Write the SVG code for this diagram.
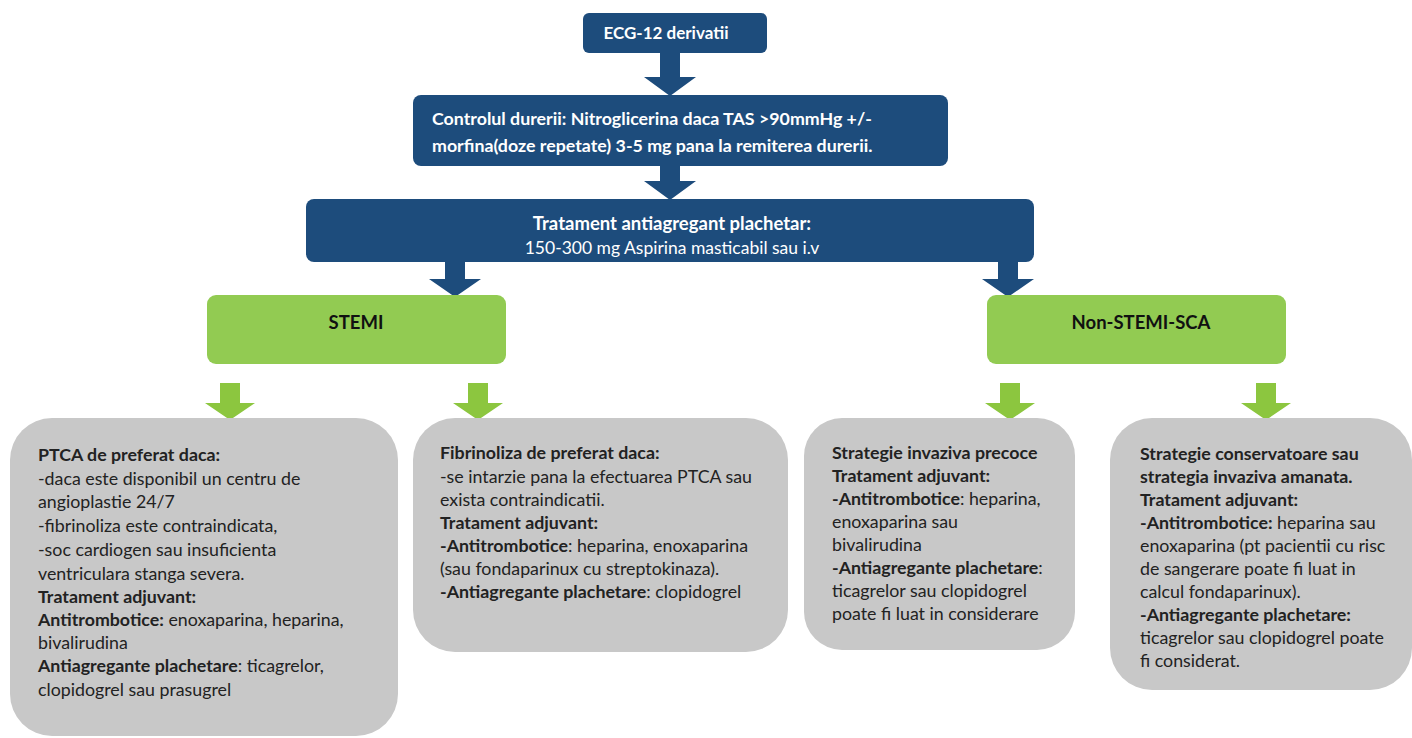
<svg xmlns="http://www.w3.org/2000/svg" width="1412" height="738" viewBox="0 0 1412 738">
  <style>
    .blue { fill: #1d4c7c; }
    .green { fill: #92cb52; }
    .gray { fill: #c8c8c8; }
    .wt { fill: #ffffff; font-family: Lato, "Noto Sans", sans-serif; font-size: 17.8px; }
    .bt { fill: #111111; font-family: Lato, "Noto Sans", sans-serif; font-size: 18.5px; font-weight: bold; }
    .tx { fill: #222222; font-family: Lato, "Noto Sans", sans-serif; font-size: 17.8px; }
    .b { font-weight: bold; }
    .arrow-blue { fill: #1d4c7c; }
    .arrow-green { fill: #8cc63f; }
  </style>

  <!-- block arrows: shaft 20 wide, head 52 wide -->
  <g id="connectors">
    <path class="arrow-blue" d="M660,52 H680 V77 H696 L670,96 L644,77 H660 Z"/>
    <path class="arrow-blue" d="M660,165 H680 V181 H696 L670,200 L644,181 H660 Z"/>
    <path class="arrow-blue" d="M445,262 H465 V279 H481 L455,297 L429,279 H445 Z"/>
    <path class="arrow-blue" d="M998,262 H1018 V279 H1034 L1008,297 L982,279 H998 Z"/>
    <path class="arrow-green" d="M220,383 H240 V403 H255 L230,420 L205,403 H220 Z"/>
    <path class="arrow-green" d="M468,383 H488 V403 H503 L478,420 L453,403 H468 Z"/>
    <path class="arrow-green" d="M1000,383 H1020 V403 H1035 L1010,420 L985,403 H1000 Z"/>
    <path class="arrow-green" d="M1256,383 H1276 V403 H1291 L1266,420 L1241,403 H1256 Z"/>
  </g>

  <g id="ecg">
    <rect class="blue" x="583" y="13" width="184" height="40" rx="6"/>
    <text class="wt b" x="666" y="39" text-anchor="middle" style="font-size:17px">ECG-12 derivatii</text>
  </g>

  <g id="durere">
    <rect class="blue" x="413" y="95" width="535" height="71" rx="8"/>
    <text class="wt b" x="432" y="125">Controlul durerii: Nitroglicerina daca TAS &gt;90mmHg +/-</text>
    <text class="wt b" x="432" y="152">morfina(doze repetate) 3-5 mg pana la remiterea durerii.</text>
  </g>

  <g id="antiagregant">
    <rect class="blue" x="306" y="199" width="728" height="63" rx="8"/>
    <text class="wt b" x="672" y="230" text-anchor="middle" style="font-size:18.5px">Tratament antiagregant plachetar:</text>
    <text class="wt" x="672" y="254" text-anchor="middle" style="font-size:17.5px">150-300 mg Aspirina masticabil sau i.v</text>
  </g>

  <g id="stemi">
    <rect class="green" x="207" y="295" width="299" height="69" rx="9"/>
    <text class="bt" x="356" y="329" text-anchor="middle">STEMI</text>
  </g>

  <g id="nonstemi">
    <rect class="green" x="987" y="295" width="299" height="69" rx="9"/>
    <text class="bt" x="1141" y="329" text-anchor="middle">Non-STEMI-SCA</text>
  </g>

  <g id="ptca">
    <rect class="gray" x="10" y="418" width="388" height="318" rx="42"/>
    <text class="tx">
      <tspan x="38" y="461" class="b">PTCA de preferat daca:</tspan>
      <tspan x="38" y="485">-daca este disponibil un centru de</tspan>
      <tspan x="38" y="508">angioplastie 24/7</tspan>
      <tspan x="38" y="532">-fibrinoliza este contraindicata,</tspan>
      <tspan x="38" y="556">-soc cardiogen sau insuficienta</tspan>
      <tspan x="38" y="580">ventriculara stanga severa.</tspan>
      <tspan x="38" y="603" class="b">Tratament adjuvant:</tspan>
      <tspan x="38" y="626"><tspan class="b">Antitrombotice:</tspan> enoxaparina, heparina,</tspan>
      <tspan x="38" y="649">bivalirudina</tspan>
      <tspan x="38" y="672"><tspan class="b">Antiagregante plachetare</tspan>: ticagrelor,</tspan>
      <tspan x="38" y="696">clopidogrel sau prasugrel</tspan>
    </text>
  </g>

  <g id="fibrinoliza">
    <rect class="gray" x="413" y="418" width="375" height="234" rx="42"/>
    <text class="tx">
      <tspan x="440" y="459" class="b">Fibrinoliza de preferat daca:</tspan>
      <tspan x="440" y="483">-se intarzie pana la efectuarea PTCA sau</tspan>
      <tspan x="440" y="506">exista contraindicatii.</tspan>
      <tspan x="440" y="529" class="b">Tratament adjuvant:</tspan>
      <tspan x="440" y="552"><tspan class="b">-Antitrombotice</tspan>: heparina, enoxaparina</tspan>
      <tspan x="440" y="575">(sau fondaparinux cu streptokinaza).</tspan>
      <tspan x="440" y="598"><tspan class="b">-Antiagregante plachetare</tspan>: clopidogrel</tspan>
    </text>
  </g>

  <g id="invaziva">
    <rect class="gray" x="804" y="418" width="271" height="232" rx="38"/>
    <text class="tx">
      <tspan x="832" y="459" class="b">Strategie invaziva precoce</tspan>
      <tspan x="832" y="482" class="b">Tratament adjuvant:</tspan>
      <tspan x="832" y="505"><tspan class="b">-Antitrombotice</tspan>: heparina,</tspan>
      <tspan x="832" y="528">enoxaparina sau</tspan>
      <tspan x="832" y="551">bivalirudina</tspan>
      <tspan x="832" y="574"><tspan class="b">-Antiagregante plachetare</tspan>:</tspan>
      <tspan x="832" y="597">ticagrelor sau clopidogrel</tspan>
      <tspan x="832" y="620">poate fi luat in considerare</tspan>
    </text>
  </g>

  <g id="conservatoare">
    <rect class="gray" x="1110" y="418" width="302" height="272" rx="42"/>
    <text class="tx">
      <tspan x="1140" y="460" class="b">Strategie conservatoare sau</tspan>
      <tspan x="1140" y="483" class="b">strategia invaziva amanata.</tspan>
      <tspan x="1140" y="506" class="b">Tratament adjuvant:</tspan>
      <tspan x="1140" y="529"><tspan class="b">-Antitrombotice:</tspan> heparina sau</tspan>
      <tspan x="1140" y="552">enoxaparina (pt pacientii cu risc</tspan>
      <tspan x="1140" y="575">de sangerare poate fi luat in</tspan>
      <tspan x="1140" y="598">calcul fondaparinux).</tspan>
      <tspan x="1140" y="621" class="b">-Antiagregante plachetare:</tspan>
      <tspan x="1140" y="644">ticagrelor sau clopidogrel poate</tspan>
      <tspan x="1140" y="667">fi considerat.</tspan>
    </text>
  </g>
</svg>
